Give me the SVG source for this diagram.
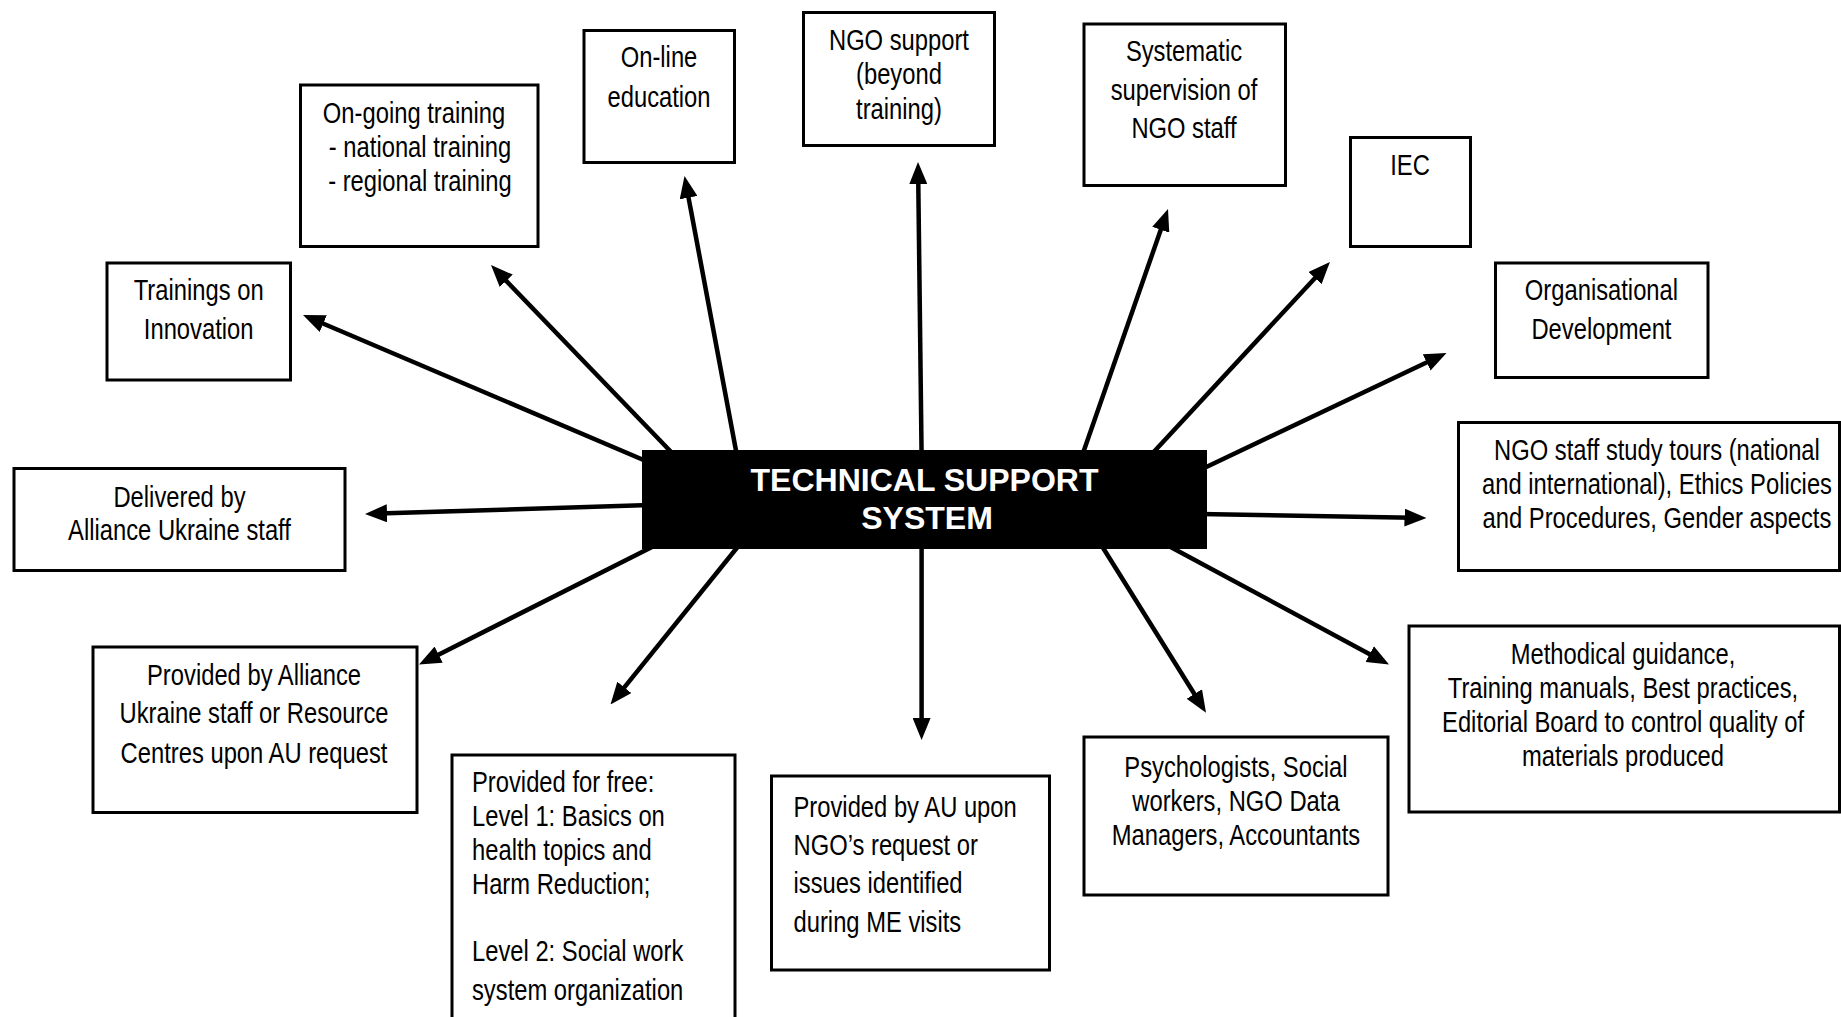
<svg xmlns="http://www.w3.org/2000/svg" width="1841" height="1017" viewBox="0 0 1841 1017">
<defs>
<style>
.box{fill:#fff;stroke:#000;stroke-width:3}
.t{font-family:"Liberation Sans",Arial,sans-serif;font-size:29px;fill:#000}
.c{text-anchor:middle}
.hub{font-family:"Liberation Sans",Arial,sans-serif;font-size:32px;font-weight:bold;fill:#fff;text-anchor:middle}
.ln{stroke:#000;stroke-width:4.5;fill:none;marker-end:url(#ah)}
</style>
<marker id="ah" markerUnits="userSpaceOnUse" markerWidth="22" markerHeight="18" refX="8" refY="9" orient="auto">
<path d="M0,0 L22,9 L0,18 z" fill="#000"/>
</marker>
</defs>
<rect width="1841" height="1017" fill="#fff"/>
<g id="connectors">
<line class="ln" x1="660" y1="467" x2="315.9" y2="320.5"/>
<line class="ln" x1="675" y1="456" x2="500.7" y2="275.1"/>
<line class="ln" x1="737" y1="456" x2="687.1" y2="189.8"/>
<line class="ln" x1="921.6" y1="456" x2="918.2" y2="176"/>
<line class="ln" x1="1082" y1="456" x2="1163.4" y2="222.2"/>
<line class="ln" x1="1150" y1="456" x2="1320.4" y2="272.2"/>
<line class="ln" x1="1200" y1="470" x2="1433.9" y2="359"/>
<line class="ln" x1="1200" y1="514" x2="1412.5" y2="517.7"/>
<line class="ln" x1="1165" y1="544" x2="1376.7" y2="657.9"/>
<line class="ln" x1="1100" y1="543" x2="1198.6" y2="700.8"/>
<line class="ln" x1="921.6" y1="543" x2="921.6" y2="726"/>
<line class="ln" x1="740" y1="544" x2="619.3" y2="693.6"/>
<line class="ln" x1="652" y1="547" x2="431.5" y2="658.2"/>
<line class="ln" x1="650" y1="505" x2="379" y2="513.5"/>
</g>
<g id="hub">
<rect x="642" y="450" width="565" height="99" fill="#000"/>
<text class="hub" x="924.5" y="491">TECHNICAL SUPPORT</text>
<text class="hub" x="927" y="529">SYSTEM</text>
</g>
<g id="ongoing">
<rect class="box" x="300.5" y="85" width="237.5" height="161.5"/>
<g transform="scale(0.82 1)">
<text class="t c" x="504.9" y="123">On-going training</text>
<text class="t c" x="512.2" y="157">- national training</text>
<text class="t c" x="512.2" y="191">- regional training</text>
</g>
</g>
<g id="online">
<rect class="box" x="584" y="30.5" width="150.5" height="132"/>
<g transform="scale(0.82 1)">
<text class="t c" x="803.7" y="67">On-line</text>
<text class="t c" x="803.7" y="107">education</text>
</g>
</g>
<g id="ngosupport">
<rect class="box" x="803.5" y="12.5" width="191" height="133"/>
<g transform="scale(0.82 1)">
<text class="t c" x="1096.3" y="50">NGO support</text>
<text class="t c" x="1096.3" y="84">(beyond</text>
<text class="t c" x="1096.3" y="119">training)</text>
</g>
</g>
<g id="supervision">
<rect class="box" x="1084" y="24" width="201.5" height="161.5"/>
<g transform="scale(0.82 1)">
<text class="t c" x="1443.9" y="61">Systematic</text>
<text class="t c" x="1443.9" y="100">supervision of</text>
<text class="t c" x="1443.9" y="138">NGO staff</text>
</g>
</g>
<g id="iec">
<rect class="box" x="1350.5" y="137.5" width="120" height="109"/>
<g transform="scale(0.82 1)">
<text class="t c" x="1719.5" y="175">IEC</text>
</g>
</g>
<g id="orgdev">
<rect class="box" x="1495.5" y="263" width="212.5" height="114.5"/>
<g transform="scale(0.82 1)">
<text class="t c" x="1953" y="300">Organisational</text>
<text class="t c" x="1953" y="339">Development</text>
</g>
</g>
<g id="studytours">
<rect class="box" x="1458.5" y="422.5" width="381" height="148"/>
<g transform="scale(0.82 1)">
<text class="t c" x="2020.7" y="460">NGO staff study tours (national</text>
<text class="t c" x="2020.7" y="494">and international), Ethics Policies</text>
<text class="t c" x="2020.7" y="528">and Procedures, Gender aspects</text>
</g>
</g>
<g id="methodical">
<rect class="box" x="1409" y="626" width="430.5" height="186"/>
<g transform="scale(0.82 1)">
<text class="t c" x="1979.3" y="664">Methodical guidance,</text>
<text class="t c" x="1979.3" y="698">Training manuals, Best practices,</text>
<text class="t c" x="1979.3" y="732">Editorial Board to control quality of</text>
<text class="t c" x="1979.3" y="766">materials produced</text>
</g>
</g>
<g id="psychologists">
<rect class="box" x="1084" y="737" width="304" height="158"/>
<g transform="scale(0.82 1)">
<text class="t c" x="1507.3" y="777">Psychologists, Social</text>
<text class="t c" x="1507.3" y="811">workers, NGO Data</text>
<text class="t c" x="1507.3" y="845">Managers, Accountants</text>
</g>
</g>
<g id="auupon">
<rect class="box" x="771.5" y="776" width="278" height="194"/>
<g transform="scale(0.82 1)">
<text class="t" x="967.7" y="817">Provided by AU upon</text>
<text class="t" x="967.7" y="855">NGO’s request or</text>
<text class="t" x="967.7" y="893">issues identified</text>
<text class="t" x="967.7" y="932">during ME visits</text>
</g>
</g>
<g id="forfree">
<rect class="box" x="452" y="755" width="283" height="290"/>
<g transform="scale(0.82 1)">
<text class="t" x="575.6" y="792">Provided for free:</text>
<text class="t" x="575.6" y="826">Level 1: Basics on</text>
<text class="t" x="575.6" y="860">health topics and</text>
<text class="t" x="575.6" y="894">Harm Reduction;</text>
<text class="t" x="575.6" y="961">Level 2: Social work</text>
<text class="t" x="575.6" y="1000">system organization</text>
</g>
</g>
<g id="resource">
<rect class="box" x="93" y="647" width="324" height="165.5"/>
<g transform="scale(0.82 1)">
<text class="t c" x="309.8" y="685">Provided by Alliance</text>
<text class="t c" x="309.8" y="723">Ukraine staff or Resource</text>
<text class="t c" x="309.8" y="763">Centres upon AU request</text>
</g>
</g>
<g id="delivered">
<rect class="box" x="14" y="468.5" width="331" height="102"/>
<g transform="scale(0.82 1)">
<text class="t c" x="218.9" y="507">Delivered by</text>
<text class="t c" x="218.9" y="540">Alliance Ukraine staff</text>
</g>
</g>
<g id="innovation">
<rect class="box" x="107" y="263" width="183.5" height="117"/>
<g transform="scale(0.82 1)">
<text class="t c" x="242.3" y="300">Trainings on</text>
<text class="t c" x="242.3" y="339">Innovation</text>
</g>
</g>
</svg>
